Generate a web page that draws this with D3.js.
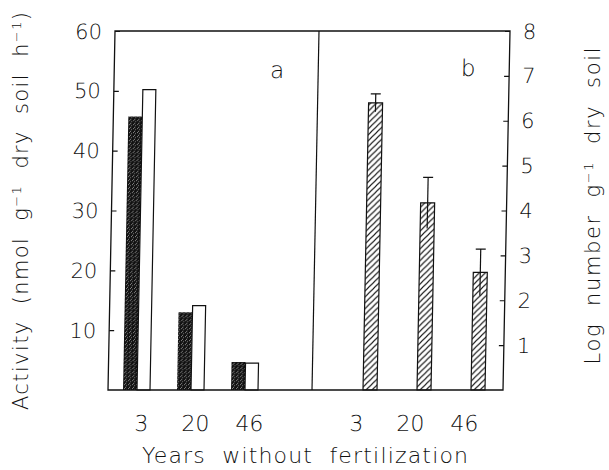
<!DOCTYPE html>
<html>
<head>
<meta charset="utf-8">
<script src="https://cdn.jsdelivr.net/npm/d3@7"></script>
<style>
  body { margin: 0; background: #fff; }
  svg text { font-family: "DejaVu Sans", sans-serif; font-weight: 200; fill: #111; }
  svg text.title { white-space: pre; }
</style>
</head>
<body>
<svg id="chart"></svg>
<script>
const WIDTH = 609;
const HEIGHT = 470;

// frame (at the baseline; the scan leans a little to the right going up)
const LEFT = 108;
const DIVIDER = 312;
const RIGHT = 503;
const TOP = 31;
const BOTTOM = 390;
const LEAN = 7; // px of lean over the full height

const years = ["3", "20", "46"];
const activityDark = [45.7, 13.0, 4.7];
const activityWhite = [50.2, 14.1, 4.5];
const logCount = [6.4, 4.17, 2.62];
const logCountErr = [0.2, 0.57, 0.52];
const leftTicks = [10, 20, 30, 40, 50, 60];
const rightTicks = [1, 2, 3, 4, 5, 6, 7, 8];

const BAR_W = 14;

const yLeft = d3.scaleLinear().domain([0, 60]).range([BOTTOM, TOP]);
const yRight = d3.scaleLinear().domain([0, 8]).range([BOTTOM, TOP]);
const xA = d3.scalePoint().domain(years).range([137, 245]);
const xB = d3.scalePoint().domain(years).range([370, 478]);

const svg = d3.select('#chart').attr('width', WIDTH).attr('height', HEIGHT);

const defs = svg.append('defs');

// stippled dark fill
const stip = defs.append('pattern')
    .attr('id', 'stipple')
    .attr('patternUnits', 'userSpaceOnUse')
    .attr('width', 4).attr('height', 4);
stip.append('rect').attr('width', 4).attr('height', 4).attr('fill', '#111');
[[0, 0], [2, 1], [1, 3]].forEach(([px, py]) => {
    stip.append('rect').attr('x', px).attr('y', py).attr('width', 1).attr('height', 1).attr('fill', '#888');
});

// diagonal hatching
const hatch = defs.append('pattern')
    .attr('id', 'hatch')
    .attr('patternUnits', 'userSpaceOnUse')
    .attr('width', 6).attr('height', 6);
hatch.append('rect').attr('width', 6).attr('height', 6).attr('fill', '#fff');
hatch.append('path')
    .attr('d', 'M-1,1 l2,-2 M0,6 l6,-6 M5,7 l2,-2')
    .attr('stroke', '#111').attr('stroke-width', 1.1);

const skew = Math.atan(-LEAN / (BOTTOM - TOP)) * 180 / Math.PI;
const g = svg.append('g')
    .attr('transform', `translate(0,${BOTTOM}) skewX(${skew}) translate(0,${-BOTTOM})`);

// panel a bars
g.selectAll('.dark')
    .data(years)
    .join('rect')
    .attr('class', 'dark')
    .attr('x', d => xA(d) - BAR_W)
    .attr('y', (d, i) => yLeft(activityDark[i]))
    .attr('width', BAR_W)
    .attr('height', (d, i) => BOTTOM - yLeft(activityDark[i]))
    .attr('fill', 'url(#stipple)');

g.selectAll('.white')
    .data(years)
    .join('rect')
    .attr('class', 'white')
    .attr('x', d => xA(d))
    .attr('y', (d, i) => yLeft(activityWhite[i]))
    .attr('width', BAR_W - 1)
    .attr('height', (d, i) => BOTTOM - yLeft(activityWhite[i]))
    .attr('fill', '#fff')
    .attr('stroke', '#111')
    .attr('stroke-width', 1.2);

// panel b bars
g.selectAll('.hatched')
    .data(years)
    .join('rect')
    .attr('class', 'hatched')
    .attr('x', d => xB(d) - BAR_W / 2)
    .attr('y', (d, i) => yRight(logCount[i]))
    .attr('width', BAR_W)
    .attr('height', (d, i) => BOTTOM - yRight(logCount[i]))
    .attr('fill', 'url(#hatch)')
    .attr('stroke', '#111')
    .attr('stroke-width', 1.2);

// error bars, upper cap only
const err = g.selectAll('.err')
    .data(years)
    .join('g')
    .attr('class', 'err')
    .attr('stroke', '#111')
    .attr('stroke-width', 1.2);
err.append('line')
    .attr('x1', d => xB(d)).attr('x2', d => xB(d))
    .attr('y1', (d, i) => yRight(logCount[i] - logCountErr[i]))
    .attr('y2', (d, i) => yRight(logCount[i] + logCountErr[i]));
err.append('line')
    .attr('x1', d => xB(d) - 5).attr('x2', d => xB(d) + 5)
    .attr('y1', (d, i) => yRight(logCount[i] + logCountErr[i]))
    .attr('y2', (d, i) => yRight(logCount[i] + logCountErr[i]));

// frame
g.append('rect')
    .attr('x', LEFT).attr('y', TOP)
    .attr('width', RIGHT - LEFT).attr('height', BOTTOM - TOP)
    .attr('fill', 'none').attr('stroke', '#111').attr('stroke-width', 1.3);
g.append('line')
    .attr('x1', DIVIDER).attr('x2', DIVIDER)
    .attr('y1', TOP).attr('y2', BOTTOM)
    .attr('stroke', '#111').attr('stroke-width', 1.2);

// left axis
const axL = g.append('g').attr('transform', `translate(${LEFT},0)`)
    .call(d3.axisRight(yLeft).tickValues(leftTicks).tickSize(5).tickFormat(''));
axL.select('.domain').remove();
axL.selectAll('line').attr('stroke', '#111').attr('stroke-width', 1.2);
g.selectAll('.ltick')
    .data(leftTicks)
    .join('text')
    .attr('class', 'ltick')
    .attr('x', LEFT - 13)
    .attr('y', d => yLeft(d))
    .attr('dy', '0.36em')
    .attr('text-anchor', 'end')
    .attr('font-size', 21)
    .text(d => d);

// right axis
const axR = g.append('g').attr('transform', `translate(${RIGHT},0)`)
    .call(d3.axisLeft(yRight).tickValues(rightTicks).tickSize(5).tickFormat(''));
axR.select('.domain').remove();
axR.selectAll('line').attr('stroke', '#111').attr('stroke-width', 1.2);
g.selectAll('.rtick')
    .data(rightTicks)
    .join('text')
    .attr('class', 'rtick')
    .attr('x', RIGHT + 13)
    .attr('y', d => yRight(d))
    .attr('dy', '0.36em')
    .attr('font-size', 21)
    .text(d => d);

// x tick labels
g.selectAll('.xa')
    .data(years)
    .join('text')
    .attr('class', 'xa')
    .attr('x', d => xA(d) + 5)
    .attr('y', 431)
    .attr('text-anchor', 'middle')
    .attr('font-size', 22)
    .text(d => d);
g.selectAll('.xb')
    .data(years)
    .join('text')
    .attr('class', 'xb')
    .attr('x', d => xB(d) - 13)
    .attr('y', 431)
    .attr('text-anchor', 'middle')
    .attr('font-size', 22)
    .text(d => d);

// panel letters
g.append('text').attr('x', DIVIDER - 41).attr('y', 78)
    .attr('text-anchor', 'middle').attr('font-size', 23).text('a');
g.append('text').attr('x', RIGHT - 41).attr('y', 76)
    .attr('text-anchor', 'middle').attr('font-size', 23).text('b');

// axis titles
const lt = svg.append('text')
    .attr('class', 'title')
    .attr('transform', 'translate(28,211) rotate(-90)')
    .attr('text-anchor', 'middle')
    .attr('font-size', 21)
    .attr('textLength', 398)
    .attr('lengthAdjust', 'spacing');
lt.append('tspan').text('Activity  (nmol  g');
lt.append('tspan').attr('baseline-shift', 'super').attr('font-size', 13).text('−1');
lt.append('tspan').text('  dry  soil  h');
lt.append('tspan').attr('baseline-shift', 'super').attr('font-size', 13).text('−1');
lt.append('tspan').text(')');

const rt = svg.append('text')
    .attr('class', 'title')
    .attr('transform', 'translate(600,206) rotate(-90)')
    .attr('text-anchor', 'middle')
    .attr('font-size', 21)
    .attr('textLength', 317)
    .attr('lengthAdjust', 'spacing');
rt.append('tspan').text('Log  number  g');
rt.append('tspan').attr('baseline-shift', 'super').attr('font-size', 13).text('−1');
rt.append('tspan').text('  dry  soil');

svg.append('text')
    .attr('class', 'title')
    .attr('x', 305).attr('y', 463)
    .attr('text-anchor', 'middle')
    .attr('font-size', 22)
    .attr('textLength', 326)
    .attr('lengthAdjust', 'spacing')
    .text('Years  without  fertilization');
</script>
</body>
</html>
